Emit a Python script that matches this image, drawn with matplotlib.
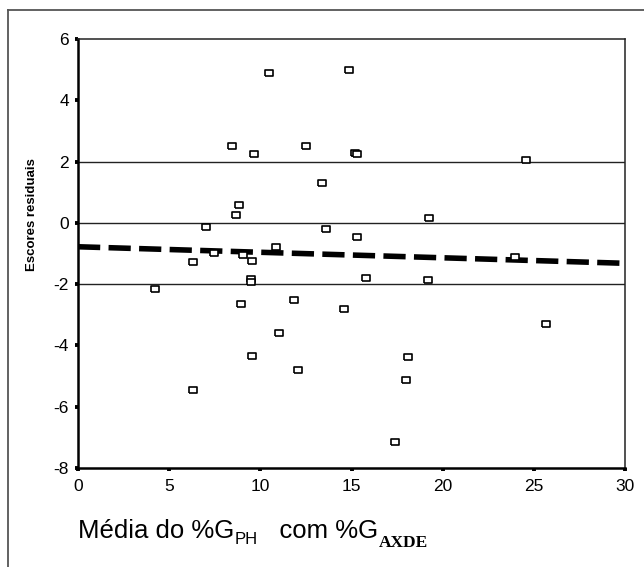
import matplotlib
matplotlib.use("Agg")
import matplotlib.pyplot as plt
from matplotlib.lines import Line2D
import numpy as np

plt.rcParams['font.family'] = ['Liberation Sans', 'DejaVu Sans']
plt.rcParams['axes.unicode_minus'] = False

# residual scores
media = [4.2, 6.33, 6.33, 7.02, 7.46, 8.43, 8.65, 8.85, 8.94, 9.03,
         9.55, 9.5, 9.5, 9.55, 9.65, 10.46, 10.86, 11.02, 11.85, 12.07,
         12.49, 13.38, 13.6, 14.59, 14.88, 15.2, 15.3, 15.29, 15.8, 17.39,
         17.99, 18.1, 19.2, 19.24, 23.95, 24.57, 25.67]
escores = [-2.16, -1.29, -5.46, -0.13, -0.99, 2.52, 0.26, 0.57, -2.66, -1.05,
           -1.24, -1.83, -1.92, -4.34, 2.24, 4.88, -0.78, -3.61, -2.53, -4.79,
           2.52, 1.31, -0.21, -2.81, 4.98, 2.27, 2.25, -0.45, -1.79, -7.16,
           -5.13, -4.39, -1.88, 0.15, -1.13, 2.06, -3.31]

# fitted trend (dashed)
fit_x = [0, 30]
fit_y = [-0.78, -1.32]

ref_lines = [2, 0, -2]
xticks = [0, 5, 10, 15, 20, 25, 30]
yticks = [6, 4, 2, 0, -2, -4, -6, -8]

W, H = 644, 567
fig = plt.figure(figsize=(W / 100, H / 100), dpi=100)
ax = fig.add_axes([78 / W, 1 - 468 / H, (625 - 78) / W, (468 - 39) / H])

# outer frame (cut at right/bottom)
fig.add_artist(Line2D([8 / W, 8 / W], [0, 1 - 10 / H], transform=fig.transFigure,
                      color='#555555', lw=1.3))
fig.add_artist(Line2D([8 / W, 1], [1 - 10 / H, 1 - 10 / H], transform=fig.transFigure,
                      color='#555555', lw=1.3))

for r in ref_lines:
    ax.axhline(r, color='#222222', lw=1.0, zorder=1)

ax.plot(fit_x, fit_y, color='black', lw=4.0, linestyle=(0, (4.0, 1.5)),
        dash_capstyle='butt', zorder=2)

rect = [(-1.4, -1), (1.4, -1), (1.4, 1), (-1.4, 1), (-1.4, -1)]
ax.plot(media, escores, linestyle='none', marker=rect, markersize=5.5,
        mfc='white', mec='black', mew=1.2, zorder=3)

ax.set_xlim(0, 30)
ax.set_ylim(-8, 6)
ax.set_xticks(xticks)
ax.set_yticks(yticks)
ax.tick_params(direction='out', length=2.5, width=2.8, labelsize=12.5,
               color='black')
ax.tick_params(axis='x', pad=5.5)
ax.tick_params(axis='y', pad=4)

for s in ['left', 'bottom']:
    ax.spines[s].set_linewidth(1.8)
for s in ['top', 'right']:
    ax.spines[s].set_linewidth(1.1)
    ax.spines[s].set_color('#222222')

ax.set_ylabel('Escores residuais', fontsize=9.5, fontweight='bold')
ax.yaxis.set_label_coords(-0.073, 0.59)

# x label with manual subscripts
t1 = fig.text(78 / W, 1 - 538 / H, 'Média do %G', fontsize=18.5, va='baseline',
              ha='left')
t2 = ax.annotate('PH', xy=(1, 0), xycoords=t1, xytext=(0.5, -3),
                 textcoords='offset points', fontsize=12, ha='left', va='bottom')
t3 = ax.annotate('   com %G', xy=(1, 0), xycoords=t2, xytext=(0, 3),
                 textcoords='offset points', fontsize=18.5, ha='left', va='bottom')
t4 = ax.annotate('AXDE', xy=(1, 0), xycoords=t3, xytext=(0.5, -6),
                 textcoords='offset points', fontsize=12.5, ha='left', va='bottom',
                 family='Liberation Serif', fontweight='bold')

fig.savefig('out.png', dpi=100)
